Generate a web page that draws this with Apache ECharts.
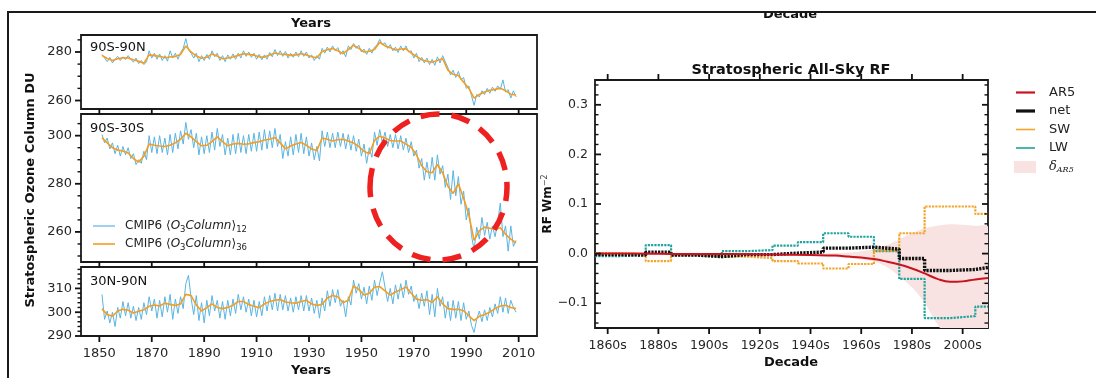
<!DOCTYPE html>
<html>
<head>
<meta charset="utf-8">
<script src="https://cdn.jsdelivr.net/npm/echarts@6/dist/echarts.min.js"></script>
<style>
  html, body { margin: 0; padding: 0; background: #fff; }
  #chart { width: 1096px; height: 378px; }
</style>
</head>
<body>
<div id="chart"></div>
<script>
// ---------- left figure: stratospheric ozone column (DU) ----------
const yearsAnnual = [];
for (let y = 1851; y <= 2009; y++) yearsAnnual.push(y);
const yearsBiennial = [];
for (let y = 1851; y <= 2009; y += 2) yearsBiennial.push(y);
const yearTicks = [1850, 1870, 1890, 1910, 1930, 1950, 1970, 1990, 2010];

// 90S-90N
const globalBlue = [
  279.0,277.5,276.0,277.8,275.5,277.0,278.2,276.5,278.0,276.8,
  278.5,277.0,275.8,277.5,275.2,276.5,274.8,276.0,280.5,277.5,
  279.5,277.0,279.2,276.5,278.5,276.2,280.5,277.5,279.5,277.0,
  279.8,281.5,285.5,281.0,279.5,277.5,279.5,276.0,278.5,276.5,
  279.0,277.0,280.5,278.0,279.5,276.5,278.5,276.0,278.8,277.0,
  279.2,277.0,279.5,277.5,280.5,278.2,280.0,277.8,279.5,277.0,
  279.0,276.8,278.8,277.0,279.8,278.0,281.0,278.5,280.5,278.2,
  280.2,277.5,279.5,277.8,280.0,278.0,280.5,278.2,280.0,277.5,
  278.8,276.5,278.5,277.0,281.5,279.5,282.0,280.0,282.5,280.5,
  281.8,279.0,280.5,278.0,282.5,281.0,283.5,281.5,282.8,280.0,
  281.2,279.0,281.5,279.5,282.0,283.0,285.2,283.0,283.8,281.5,
  283.0,280.5,282.0,279.8,282.5,280.5,282.5,280.0,280.5,277.5,
  279.5,276.0,277.8,275.5,277.5,274.8,277.0,274.5,278.0,275.5,
  278.5,276.0,273.5,270.5,272.5,269.5,272.0,268.5,269.5,265.0,
  266.0,262.0,258.0,262.5,261.5,264.0,262.5,265.0,263.0,265.5,
  263.8,266.0,264.5,268.5,263.5,264.5,261.0,264.0,261.5
];
const globalOrange = [
  278.6,277.3,276.5,277.2,277.6,277.5,276.8,276.2,275.4,278.8,
  278.5,278.2,277.6,277.9,278.2,279.0,282.5,280.0,278.3,277.4,
  277.8,279.2,278.3,277.2,277.5,277.9,278.6,279.3,279.0,278.7,
  278.0,277.9,278.8,279.6,279.2,279.0,278.6,278.8,279.3,278.8,
  278.0,277.6,280.2,280.9,281.4,280.5,279.3,281.0,282.8,281.5,
  280.0,280.3,281.0,284.0,282.5,281.8,280.8,281.2,281.3,279.5,
  278.2,276.8,276.2,275.8,276.5,277.2,272.5,270.8,270.3,267.5,
  265.0,261.0,262.5,263.5,264.2,264.6,265.1,264.0,262.6,262.3
];

// 90S-30S
const southBlue = [
  300.5,297.0,299.0,294.5,297.0,292.5,296.0,291.5,295.5,292.0,
  295.0,290.5,292.5,288.0,290.0,288.5,293.5,290.0,300.0,293.0,
  299.5,292.5,300.0,293.0,299.0,292.0,300.5,293.0,301.0,294.5,
  302.0,296.5,305.5,298.5,302.5,295.0,301.0,292.0,299.5,292.5,
  300.0,293.0,301.5,294.0,303.0,295.5,300.5,292.0,299.0,292.0,
  300.5,292.5,301.0,293.0,300.0,292.5,300.5,293.5,301.0,293.5,
  301.5,294.0,302.5,294.5,302.0,295.0,303.0,295.5,300.5,290.5,
  297.5,291.5,299.5,292.0,300.5,293.0,301.0,292.5,299.5,291.5,
  297.0,290.0,295.5,289.5,302.0,295.5,301.5,295.0,301.0,295.0,
  301.5,295.5,301.0,294.5,300.5,294.0,300.0,293.5,298.5,291.5,
  296.5,288.5,295.0,291.0,301.5,296.0,302.5,297.0,301.5,295.5,
  300.5,295.0,300.5,294.5,300.0,294.0,299.0,293.0,297.5,291.5,
  294.0,286.5,290.5,281.5,289.0,282.0,291.0,281.5,292.0,284.0,
  287.5,278.5,284.0,273.5,285.5,275.0,283.0,271.5,277.0,265.0,
  270.0,258.5,252.5,262.0,257.0,266.0,258.5,264.0,257.0,262.5,
  258.0,264.0,272.0,258.0,262.5,252.0,262.5,254.0,256.5
];
const southOrange = [
  299.2,297.0,295.0,294.0,293.6,292.8,290.5,289.0,291.5,296.5,
  296.0,295.7,295.5,296.0,297.0,298.5,301.0,299.5,297.5,295.8,
  296.0,297.5,299.5,297.5,295.8,296.5,296.8,296.4,296.6,297.1,
  297.5,298.2,298.5,299.2,297.0,294.5,295.7,296.5,297.2,296.0,
  294.5,293.8,299.0,298.5,297.8,298.3,298.5,297.8,297.0,295.5,
  293.5,292.5,298.0,299.8,299.0,298.0,297.8,297.8,296.5,295.2,
  292.0,287.5,285.0,284.6,288.0,284.5,279.0,276.0,280.0,274.0,
  267.0,256.5,260.5,262.0,261.5,261.0,261.7,259.0,257.0,255.5
];

// 30N-90N
const northBlue = [
  307.5,297.0,300.5,295.5,300.0,294.0,302.0,297.5,304.5,298.5,
  304.0,297.5,302.5,296.5,302.0,297.0,304.0,299.0,306.5,300.5,
  305.5,297.5,305.0,298.0,306.5,300.0,307.5,297.0,305.5,299.5,
  306.5,301.5,312.0,315.5,306.0,299.0,307.0,296.5,304.0,295.5,
  305.0,298.5,307.0,300.5,305.0,297.5,304.5,297.0,305.0,298.5,
  305.5,299.5,307.5,301.0,306.5,300.0,305.5,298.5,305.0,298.0,
  304.5,298.5,306.5,300.5,307.0,301.0,308.0,300.5,307.5,301.0,
  307.0,300.5,306.0,300.0,306.5,301.0,307.0,300.5,307.0,300.5,
  306.0,299.5,305.0,297.5,306.0,300.5,309.0,302.5,309.5,304.0,
  309.5,302.5,305.0,298.0,306.5,303.0,313.5,308.0,312.0,305.5,
  310.5,303.5,311.0,305.0,313.5,307.0,312.5,317.0,310.5,304.5,
  310.0,303.5,311.5,305.5,312.0,306.0,313.5,307.5,311.0,304.5,
  307.5,301.5,308.0,302.5,309.0,299.0,307.5,298.0,310.0,302.5,
  306.5,297.5,304.5,296.5,305.0,297.5,304.5,296.5,304.0,297.0,
  300.5,294.5,291.5,297.0,300.5,296.0,301.0,296.5,302.0,298.0,
  303.5,299.5,306.5,300.0,306.0,299.5,305.0,302.0,300.0
];
const northOrange = [
  301.4,299.0,298.3,300.5,301.2,300.8,299.7,300.4,301.0,302.5,
  303.0,302.6,303.8,303.3,302.8,303.5,307.5,307.0,303.0,300.5,
  301.9,303.5,302.0,301.5,302.0,302.9,304.5,304.5,303.2,302.5,
  301.9,303.5,304.5,305.0,305.3,304.3,304.0,303.8,304.5,305.0,
  303.5,302.8,303.3,306.0,307.0,306.5,304.0,305.0,311.0,309.6,
  307.2,308.0,310.5,310.8,309.0,307.2,308.5,309.5,310.6,308.0,
  305.5,305.0,305.3,304.1,306.5,303.5,301.5,301.2,301.2,300.6,
  298.5,296.5,298.3,299.0,300.0,301.5,302.6,302.9,302.0,301.5
];

// ---------- right figure: stratospheric all-sky RF (W m-2) ----------
const decadeEdges = [1855,1865,1875,1885,1895,1905,1915,1925,1935,1945,1955,1965,1975,1985,1995,2005,2010];
const decadeTicks = [1860, 1880, 1900, 1920, 1940, 1960, 1980, 2000];
const lwValues  = [-0.005,-0.003,0.017,-0.003,-0.005,0.005,0.007,0.016,0.023,0.041,0.034,0.005,-0.051,-0.130,-0.126,-0.107];
const swValues  = [0.001,-0.001,-0.015,-0.003,-0.006,-0.006,-0.009,-0.015,-0.020,-0.030,-0.021,0.006,0.041,0.095,0.095,0.080];
const netValues = [-0.002,-0.003,0.003,-0.003,-0.006,-0.002,-0.002,0.001,0.003,0.011,0.013,0.009,-0.010,-0.034,-0.032,-0.028];
const ar5Years  = [1855,1870,1890,1910,1925,1940,1950,1955,1960,1965,1970,1975,1980,1985,1990,1995,2000,2005,2010];
const ar5Values = [0.0,0.0,-0.001,-0.001,-0.002,-0.003,-0.004,-0.006,-0.008,-0.011,-0.016,-0.022,-0.030,-0.040,-0.051,-0.057,-0.056,-0.052,-0.049];
const bandYears = [1935,1945,1955,1965,1970,1975,1980,1985,1990,1995,2000,2005,2010];
const bandLow   = [-0.002,-0.005,-0.009,-0.016,-0.027,-0.045,-0.068,-0.099,-0.142,-0.175,-0.180,-0.175,-0.165];
const bandHigh  = [-0.002,0.000,0.002,0.009,0.017,0.029,0.041,0.051,0.056,0.059,0.058,0.056,0.054];
const rfMajor = [-0.1, 0, 0.1, 0.2, 0.3];
const rfMinor = [-0.14,-0.12,-0.08,-0.06,-0.04,-0.02,0.02,0.04,0.06,0.08,0.12,0.14,0.16,0.18,0.22,0.24,0.26,0.28,0.32,0.34];

const FONT = 'DejaVu Sans';
const INK = '#1a1a1a';
const BLUE = '#5ab5e2';
const ORANGE = '#f59d1f';
const C_AR5 = '#c9141f', C_NET = '#111111', C_SW = '#f2a52a', C_LW = '#1fa39c', C_BAND = '#f9e2e2';

const pair = (xs, ys) => xs.slice(0, ys.length).map((x, i) => [x, ys[i]]);
const stepData = vals => decadeEdges.map((x, i) => [x, vals[Math.min(i, vals.length - 1)]]);

const chart = echarts.init(document.getElementById('chart'));

const panels = [
  { top: 35,  height: 74,  min: 256.5, max: 287, major: [260, 280],      minor: [265, 270, 275, 285], blue: globalBlue, orange: globalOrange },
  { top: 114, height: 148, min: 247.5, max: 309, major: [260, 280, 300], minor: [250, 255, 265, 270, 275, 285, 290, 295, 305], blue: southBlue, orange: southOrange },
  { top: 267, height: 69,  min: 290,   max: 319, major: [290, 300, 310], minor: [292, 294, 296, 298, 302, 304, 306, 308, 312, 314, 316, 318], blue: northBlue, orange: northOrange }
];
const X_LEFT = [1843, 2017];
const X_RIGHT = [1855, 2010];
const Y_RIGHT = [-0.15, 0.35];

const labelStyle = { fontFamily: FONT, fontSize: 13, color: '#262626' };

const grid = panels.map(p => ({
  left: 81, width: 456, top: p.top, height: p.height,
  show: true, borderColor: INK, borderWidth: 1.8
}));
grid.push({ left: 595, width: 393, top: 80, height: 248, show: true, borderColor: INK, borderWidth: 1.8 });

const bare = { axisLine: { show: false, onZero: false }, axisTick: { show: false }, splitLine: { show: false } };
const xAxis = panels.map((p, i) => Object.assign({
  type: 'value', gridIndex: i, min: X_LEFT[0], max: X_LEFT[1], position: 'bottom',
  axisLabel: Object.assign({ show: i === 2, customValues: yearTicks, margin: 11, formatter: v => String(v) }, labelStyle)
}, bare));
xAxis.push(Object.assign({
  type: 'value', gridIndex: 3, min: X_RIGHT[0], max: X_RIGHT[1], position: 'bottom',
  axisLabel: Object.assign({ customValues: decadeTicks, margin: 11, formatter: v => v + 's' }, labelStyle, { fontSize: 12.5 })
}, bare));

const fmtRF = v => (Math.abs(v) < 1e-9 ? '0.0' : v.toFixed(1).replace('-', '\u2212'));
const yAxis = panels.map((p, i) => Object.assign({
  type: 'value', gridIndex: i, min: p.min, max: p.max, position: 'left',
  axisLabel: Object.assign({ customValues: p.major, margin: 9 }, labelStyle)
}, bare));
yAxis.push(Object.assign({
  type: 'value', gridIndex: 3, min: Y_RIGHT[0], max: Y_RIGHT[1], position: 'left',
  axisLabel: Object.assign({ customValues: rfMajor, margin: 7, formatter: fmtRF }, labelStyle, { fontSize: 12.5 }),
  name: '{b|RF Wm}{s|\u22122}', nameLocation: 'middle', nameGap: 36, nameRotate: 90,
  nameTextStyle: {
    rich: {
      b: { fontFamily: FONT, fontSize: 12, fontWeight: 'bold', color: '#111' },
      s: { fontFamily: FONT, fontSize: 8, color: '#444', padding: [0, 0, 6, 0] }
    }
  }
}, bare));

const series = [];
panels.forEach((p, i) => {
  series.push({
    name: 'c12', type: 'line', xAxisIndex: i, yAxisIndex: i, symbol: 'none',
    data: pair(yearsAnnual, p.blue), lineStyle: { color: BLUE, width: 1 }, z: 2
  });
  series.push({
    name: 'c36', type: 'line', xAxisIndex: i, yAxisIndex: i, symbol: 'none',
    data: pair(yearsBiennial, p.orange), lineStyle: { color: ORANGE, width: 1.6 }, z: 3
  });
});

const RX = 3, RY = 3;
// uncertainty band of AR5, drawn as one polygon through the axes' coordinate system
series.push({
  name: 'dAR5', type: 'custom', xAxisIndex: RX, yAxisIndex: RY, clip: true, z: 1,
  data: bandYears.map((x, i) => [x, bandLow[i], bandHigh[i]]),
  renderItem: (params, api) => {
    if (params.dataIndex !== 0) return null;
    const upper = bandYears.map((x, i) => api.coord([x, bandHigh[i]]));
    const lower = bandYears.map((x, i) => api.coord([x, bandLow[i]])).reverse();
    return { type: 'polygon', shape: { points: upper.concat(lower), smooth: 0.25 }, style: { fill: C_BAND } };
  }
});
const steps = [
  { name: 'LW',  vals: lwValues,  color: C_LW,  width: 2.2, z: 3 },
  { name: 'SW',  vals: swValues,  color: C_SW,  width: 2.2, z: 4 },
  { name: 'net', vals: netValues, color: C_NET, width: 3.4, z: 5 }
];
steps.forEach(s => series.push({
  name: s.name, type: 'line', xAxisIndex: RX, yAxisIndex: RY, symbol: 'none', step: 'end',
  data: stepData(s.vals), lineStyle: { color: s.color, width: s.width, type: [2.2, 1.1] }, z: s.z
}));
series.push({
  name: 'AR5', type: 'line', xAxisIndex: RX, yAxisIndex: RY, symbol: 'none', smooth: 0.4,
  data: pair(ar5Years, ar5Values), lineStyle: { color: C_AR5, width: 2 }, z: 6
});

// tick marks: one custom series per tick set, each tick drawn as a small rect through the axes' scales
const tickSeries = (xi, yi, points, dx, dy, w, h) => ({
  type: 'custom', xAxisIndex: xi, yAxisIndex: yi, clip: false, silent: true, z: 10,
  data: points,
  renderItem: (params, api) => {
    const c = api.coord([api.value(0), api.value(1)]);
    return {
      type: 'rect',
      shape: { x: c[0] + dx, y: c[1] + dy, width: w, height: h },
      style: { fill: '#111' }
    };
  }
});
panels.forEach((p, i) => {
  series.push(tickSeries(i, i, yearTicks.map(v => [v, p.min]), -0.9, 0, 1.8, 6));
  series.push(tickSeries(i, i, p.major.map(v => [X_LEFT[0], v]), -6, -0.9, 6, 1.8));
  series.push(tickSeries(i, i, p.minor.map(v => [X_LEFT[0], v]), -3.5, -0.7, 3.5, 1.4));
});
series.push(tickSeries(RX, RY, decadeTicks.map(v => [v, Y_RIGHT[0]]), -0.9, 0, 1.8, 6));
series.push(tickSeries(RX, RY, decadeTicks.map(v => [v, Y_RIGHT[1]]), -0.9, -6, 1.8, 6));
series.push(tickSeries(RX, RY, rfMajor.map(v => [X_RIGHT[0], v]), 0, -0.9, 6, 1.8));
series.push(tickSeries(RX, RY, rfMinor.map(v => [X_RIGHT[0], v]), 0, -0.7, 3.5, 1.4));
series.push(tickSeries(RX, RY, rfMajor.map(v => [X_RIGHT[1], v]), -6, -0.9, 6, 1.8));
series.push(tickSeries(RX, RY, rfMinor.map(v => [X_RIGHT[1], v]), -3.5, -0.7, 3.5, 1.4));

const txt = (x, y, text, opt) => ({
  type: 'text', x, y, z: 20,
  style: Object.assign({ text, fontFamily: FONT, fontSize: 13, fill: '#111', align: 'left', verticalAlign: 'middle' }, opt || {})
});
const seg = (x1, y1, x2, y2, color, w) => ({
  type: 'line', z: 20, shape: { x1, y1, x2, y2 }, style: { stroke: color, lineWidth: w }
});

const legendLeftRich = {
  i: { fontFamily: FONT, fontSize: 12, fontStyle: 'italic', fill: '#222' },
  s: { fontFamily: FONT, fontSize: 8.5, fill: '#222', padding: [7, 0, 0, 0] }
};
const legendRightRows = [
  { label: 'AR5', color: C_AR5, w: 2.2, y: 92.5 },
  { label: 'net', color: C_NET, w: 3.2, y: 111 },
  { label: 'SW',  color: C_SW,  w: 1.6, y: 129.5 },
  { label: 'LW',  color: C_LW,  w: 1.6, y: 148 }
];

const graphic = [
  // heading clipped by the frame (belongs to a panel above)
  txt(790, 15, 'Decade', { fontWeight: 'bold', align: 'center' }),
  { type: 'rect', z: 21, shape: { x: 0, y: 0, width: 1096, height: 12 }, style: { fill: '#fff' } },
  { type: 'polyline', z: 22, shape: { points: [[8, 378], [8, 12], [1096, 12]] }, style: { stroke: INK, lineWidth: 2, fill: 'none' } },
  txt(311, 24, 'Years', { fontWeight: 'bold', align: 'center' }),
  txt(311, 371, 'Years', { fontWeight: 'bold', align: 'center' }),
  Object.assign(txt(31, 190, 'Stratospheric Ozone Column DU', { fontWeight: 'bold', align: 'center' }), { rotation: Math.PI / 2 }),
  txt(90, 48, '90S-90N'),
  txt(90, 129, '90S-30S'),
  txt(90, 282, '30N-90N'),
  txt(791, 70, 'Stratospheric All-Sky RF', { fontWeight: 'bold', fontSize: 14.5, align: 'center' }),
  txt(791, 363, 'Decade', { fontWeight: 'bold', align: 'center' }),
  // legend of the left figure
  seg(93, 226, 115, 226, BLUE, 1.2),
  seg(93, 244, 115, 244, ORANGE, 1.6),
  txt(125, 226, 'CMIP6 \u27e8{i|O}{s|3}{i|Column}\u27e9{s|12}', { fontSize: 12, fill: '#222', rich: legendLeftRich }),
  txt(125, 244, 'CMIP6 \u27e8{i|O}{s|3}{i|Column}\u27e9{s|36}', { fontSize: 12, fill: '#222', rich: legendLeftRich }),
  // legend of the right figure
  ...legendRightRows.map(r => seg(1016, r.y, 1035, r.y, r.color, r.w)),
  ...legendRightRows.map(r => txt(1049, r.y, r.label, { fill: '#222' })),
  { type: 'rect', z: 20, shape: { x: 1014, y: 161, width: 22, height: 12 }, style: { fill: C_BAND } },
  txt(1049, 167, '{d|\u03b4}{s|AR5}', {
    fill: '#222',
    rich: {
      d: { fontFamily: 'DejaVu Serif', fontStyle: 'italic', fontSize: 13, fill: '#222' },
      s: { fontFamily: 'DejaVu Serif', fontStyle: 'italic', fontSize: 8, fill: '#222', padding: [6, 0, 0, 0] }
    }
  }),
  {
    type: 'ellipse', z: 30, shape: { cx: 438.5, cy: 187, rx: 68.5, ry: 73 },
    style: { fill: 'none', stroke: '#ee2020', lineWidth: 5.5, lineDash: [19, 12] }
  }
];

chart.setOption({
  animation: false,
  backgroundColor: '#fff',
  grid, xAxis, yAxis, series, graphic
});
</script>
</body>
</html>
